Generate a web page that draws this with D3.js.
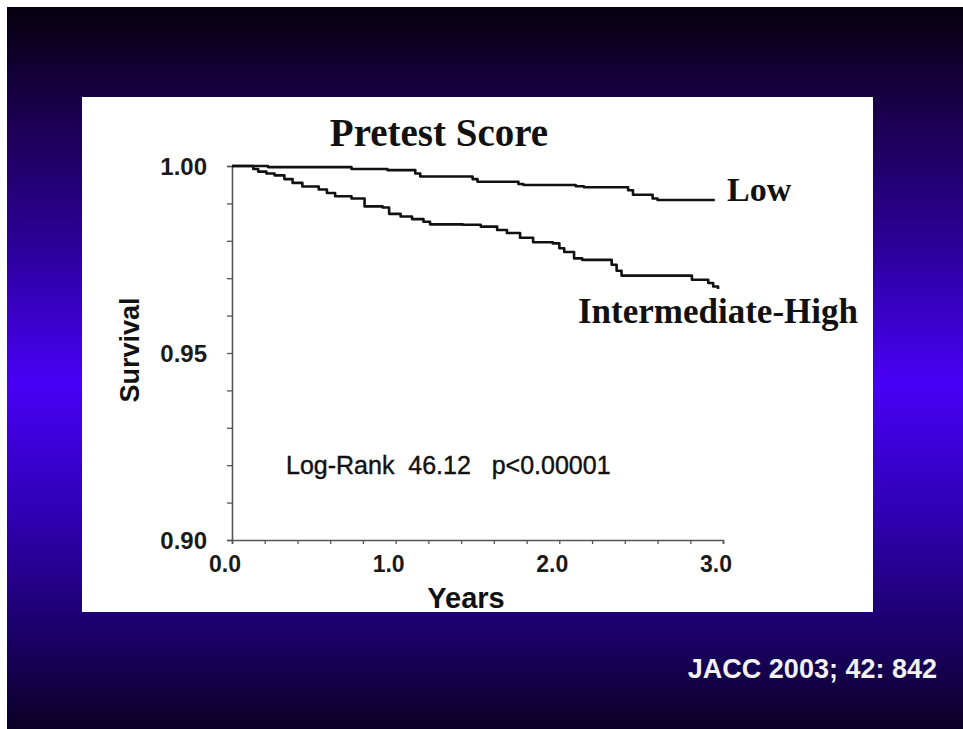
<!DOCTYPE html>
<html>
<head>
<meta charset="utf-8">
<script src="https://cdn.jsdelivr.net/npm/d3@7"></script>
<style>
  html, body { margin: 0; padding: 0; background: #fff; }
  svg { display: block; }
</style>
</head>
<body>
<div id="chart"></div>
<script>
const width = 963;
const height = 729;

// Kaplan-Meier step curves (years, survival)
const lowTimes = [0, 0.22, 0.73, 0.95, 1.12, 1.15, 1.47, 1.50, 1.75, 1.78, 2.10, 2.15, 2.42, 2.45, 2.57, 2.60, 2.95];
const lowSurvival = [1.000, 0.9997, 0.9992, 0.9989, 0.9980, 0.9972, 0.9965, 0.9958, 0.9952, 0.9949, 0.9946, 0.9943, 0.9935, 0.9923, 0.9913, 0.9909, 0.9909];

const ihTimes = [0, 0.13, 0.16, 0.21, 0.26, 0.32, 0.37, 0.43, 0.53, 0.58, 0.63, 0.73, 0.81, 0.92, 0.96, 1.03, 1.10, 1.17, 1.21, 1.41, 1.52, 1.62, 1.68, 1.76, 1.84, 1.96, 2.00, 2.03, 2.09, 2.14, 2.32, 2.35, 2.38, 2.75, 2.81, 2.91, 2.94, 2.97];
const ihSurvival = [1.000, 0.9992, 0.9985, 0.9980, 0.9975, 0.9965, 0.9955, 0.9945, 0.9937, 0.9928, 0.9919, 0.9913, 0.9892, 0.9889, 0.9872, 0.9865, 0.9858, 0.9851, 0.9844, 0.9843, 0.9838, 0.9829, 0.9821, 0.9808, 0.9796, 0.9793, 0.9780, 0.9770, 0.9753, 0.9749, 0.9736, 0.9720, 0.9707, 0.9707, 0.9696, 0.9687, 0.9678, 0.9671];

const xTickValues = d3.range(0, 3.01, 0.2);
const xTickLabels = ['0.0', '1.0', '2.0', '3.0'];
const yTickValues = d3.range(0.90, 1.0001, 0.01);
const yTickLabels = ['0.90', '0.95', '1.00'];

const svg = d3.select('#chart').append('svg')
  .attr('width', width).attr('height', height);

// slide background
const defs = svg.append('defs');
const grad = defs.append('linearGradient')
  .attr('id', 'bg').attr('x1', 0).attr('y1', 0).attr('x2', 0).attr('y2', 1);
[[0, '#06000e'], [0.14, '#19004a'], [0.33, '#2c0098'], [0.52, '#4800f6'],
 [0.7, '#3000b4'], [0.86, '#1c006c'], [1, '#0b0026']].forEach(([o, c]) => {
  grad.append('stop').attr('offset', o).attr('stop-color', c);
});

svg.append('rect').attr('x', 7).attr('y', 7)
  .attr('width', width - 7).attr('height', height - 7)
  .attr('fill', 'url(#bg)');

// white figure panel
svg.append('rect').attr('x', 82).attr('y', 97)
  .attr('width', 791).attr('height', 515)
  .attr('fill', '#fff');

const x = d3.scaleLinear().domain([0, 3]).range([232, 723]);
const y = d3.scaleLinear().domain([0.90, 1.00]).range([540, 166]);

// y axis
const yAxis = d3.axisLeft(y)
  .tickValues(yTickValues)
  .tickSize(5)
  .tickFormat('');
const gy = svg.append('g').attr('transform', `translate(${x(0)},0)`).call(yAxis);
gy.select('.domain').attr('stroke', '#555').attr('stroke-width', 1.6);
gy.selectAll('.tick line').attr('stroke', '#555').attr('stroke-width', 1.3);

// x axis
const xAxis = d3.axisBottom(x)
  .tickValues(xTickValues)
  .tickSize(4)
  .tickSizeOuter(4)
  .tickFormat('');
const gx = svg.append('g').attr('transform', `translate(0,${y(0.90)})`).call(xAxis);
gx.select('.domain').attr('stroke', '#555').attr('stroke-width', 1.6);
gx.selectAll('.tick line').attr('stroke', '#555').attr('stroke-width', 1.3);

const sans = 'Liberation Sans, Arial, sans-serif';
const serif = 'Liberation Serif, Times New Roman, serif';

svg.selectAll('.ylab')
  .data(yTickLabels)
  .enter()
  .append('text')
  .attr('class', 'ylab')
  .attr('x', x(0) - 25)
  .attr('y', (d) => y(+d))
  .attr('dy', '0.36em')
  .attr('text-anchor', 'end')
  .style('font-family', sans)
  .style('font-weight', 'bold')
  .style('font-size', '24px')
  .style('fill', '#1a1a1a')
  .text((d) => d);

svg.selectAll('.xlab')
  .data(xTickLabels)
  .enter()
  .append('text')
  .attr('class', 'xlab')
  .attr('x', (d) => x(+d) - 7)
  .attr('y', y(0.90) + 32)
  .attr('text-anchor', 'middle')
  .style('font-family', sans)
  .style('font-weight', 'bold')
  .style('font-size', '23px')
  .style('fill', '#1a1a1a')
  .text((d) => d);

// survival curves
const line = d3.line()
  .x((d) => x(d[0]))
  .y((d) => y(d[1]))
  .curve(d3.curveStepAfter);

const series = [
  d3.zip(lowTimes, lowSurvival),
  d3.zip(ihTimes, ihSurvival),
];
svg.selectAll('.km')
  .data(series)
  .enter()
  .append('path')
  .attr('class', 'km')
  .attr('d', line)
  .attr('fill', 'none')
  .attr('stroke', '#111')
  .attr('stroke-width', 2.6)
  .attr('stroke-linejoin', 'round');

// labels
svg.append('text')
  .attr('x', 439).attr('y', 146)
  .attr('text-anchor', 'middle')
  .style('font-family', serif).style('font-weight', 'bold')
  .style('font-size', '39px').style('fill', '#111')
  .text('Pretest Score');

svg.append('text')
  .attr('x', 727).attr('y', 201)
  .style('font-family', serif).style('font-weight', 'bold')
  .style('font-size', '34px').style('fill', '#111')
  .text('Low');

svg.append('text')
  .attr('x', 578).attr('y', 323)
  .style('font-family', serif).style('font-weight', 'bold')
  .style('font-size', '35px').style('fill', '#111')
  .text('Intermediate-High');

svg.append('text')
  .attr('x', 286).attr('y', 474)
  .style('font-family', sans)
  .style('font-size', '25px').style('fill', '#111')
  .style('stroke', '#111').style('stroke-width', 0.4)
  .attr('xml:space', 'preserve')
  .text('Log-Rank  46.12   p<0.00001');

svg.append('text')
  .attr('x', 466).attr('y', 608)
  .attr('text-anchor', 'middle')
  .style('font-family', sans).style('font-weight', 'bold')
  .style('font-size', '29px').style('fill', '#111')
  .text('Years');

svg.append('text')
  .attr('transform', 'translate(139,350) rotate(-90)')
  .attr('text-anchor', 'middle')
  .style('font-family', sans).style('font-weight', 'bold')
  .style('font-size', '27px').style('fill', '#111')
  .text('Survival');

svg.append('text')
  .attr('x', 937).attr('y', 678)
  .attr('text-anchor', 'end')
  .style('font-family', sans).style('font-weight', 'bold')
  .style('font-size', '27px').style('fill', '#f2f2f2')
  .text('JACC 2003; 42: 842');
</script>
</body>
</html>
